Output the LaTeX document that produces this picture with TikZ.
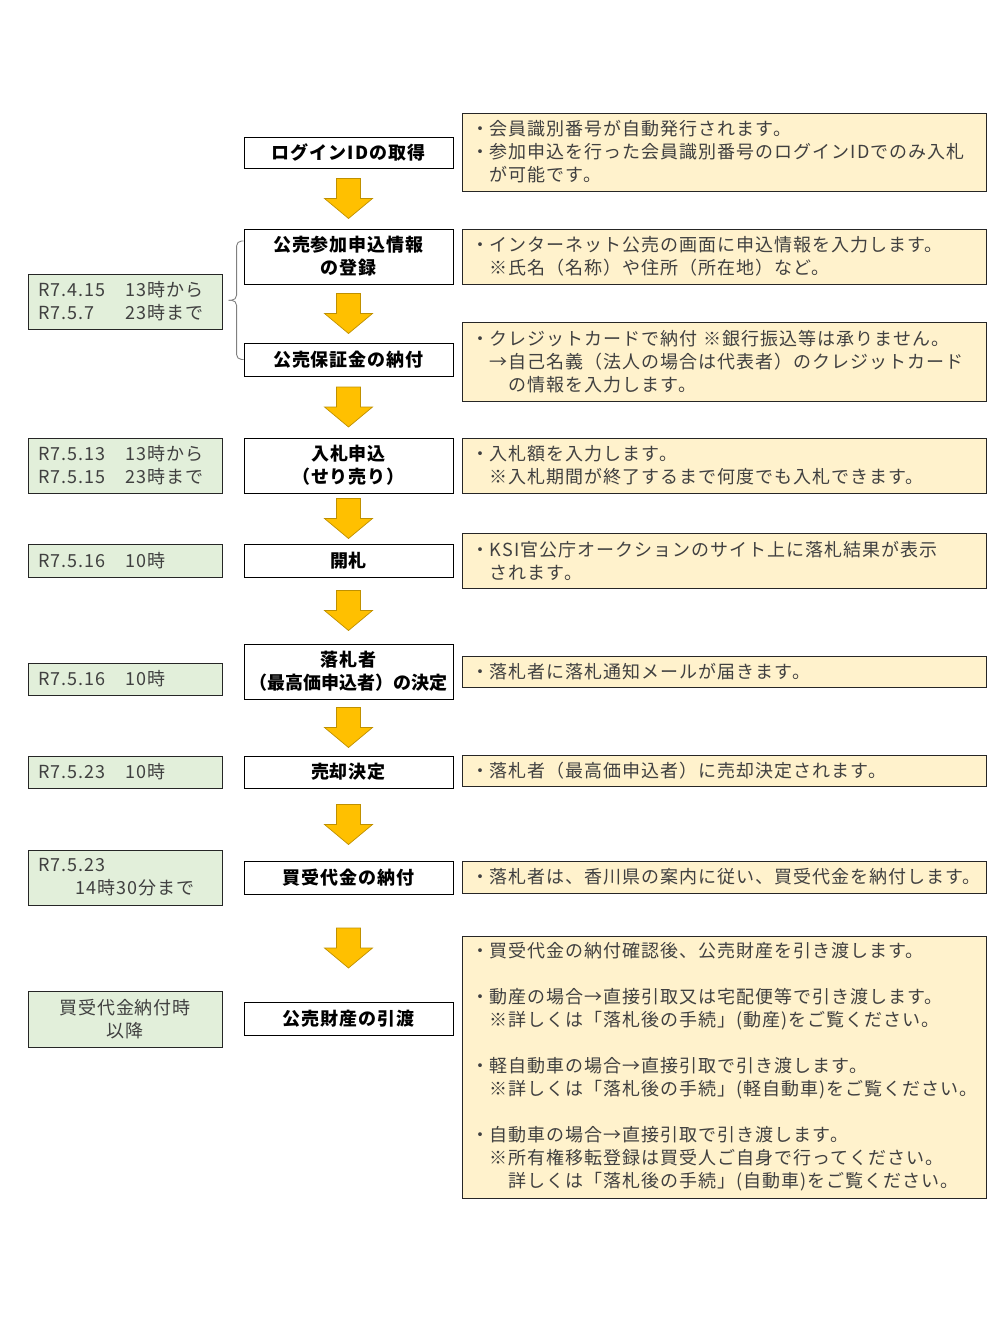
\documentclass[tikz,border=0pt]{standalone}
\usepackage{fontspec}
\setmainfont{Noto Sans CJK JP}[LetterSpace=5.5]
\usetikzlibrary{calc}

\definecolor{notefill}{HTML}{FFF2CC}
\definecolor{datefill}{HTML}{E2EFDA}
\definecolor{arrowfill}{HTML}{FFC000}
\definecolor{arrowline}{HTML}{BF9000}
\definecolor{textgray}{HTML}{404040}

\begin{document}
\begin{tikzpicture}[
    x=1pt, y=-1pt,
    stepbox/.style={rectangle, draw=black, line width=0.9pt, fill=white, minimum width=209pt, inner xsep=2pt, inner ysep=0pt, align=center, font=\fontsize{18}{23}\selectfont\bfseries},
    datebox/.style={rectangle, draw=black!85, line width=0.9pt, fill=datefill, text width=174pt, inner xsep=10pt, inner ysep=0pt, align=left, text=textgray, font=\fontsize{18}{23}\selectfont},
    notebox/.style={rectangle, draw=black!85, line width=0.9pt, fill=notefill, text width=506pt, inner xsep=9pt, inner ysep=0pt, align=left, text=textgray, font=\fontsize{18}{23}\selectfont},
    bracket/.style={draw=gray, line width=0.9pt, rounded corners=5pt},
    downarrow/.pic={\filldraw[fill=arrowfill, draw=arrowline, line width=0.7pt] (-12,-20) -- (12,-20) -- (12,0) -- (24,0) -- (0,20) -- (-24,0) -- (-12,0) -- cycle;}
    ]

    \useasboundingbox (0,0) rectangle (1008,1344);

    % procedure steps
    \node[stepbox, minimum height=31pt] (login) at (348.5,152.5) {ログインIDの取得};
    \node[stepbox, minimum height=55pt] (reg) at (348.5,256.5) {公売参加申込情報\\の登録};
    \node[stepbox, minimum height=33pt] (dep) at (348.5,359.5) {公売保証金の納付};
    \node[stepbox, minimum height=55pt] (bid) at (348.5,465.5) {入札申込\\（せり売り）};
    \node[stepbox, minimum height=33pt] (open) at (348.5,560.5) {開札};
    \node[stepbox, minimum height=55pt] (win) at (348.5,671.5) {落札者\\{\addfontfeatures{LetterSpace=0}（最高価申込者）の決定}};
    \node[stepbox, minimum height=32pt] (sale) at (348.5,772) {売却決定};
    \node[stepbox, minimum height=33pt] (pay) at (348.5,877.5) {買受代金の納付};
    \node[stepbox, minimum height=33pt] (deliv) at (348.5,1018.5) {公売財産の引渡};

    % dates
    \node[datebox, minimum height=55pt] (dregdep) at (125,301.5) {R7.4.15　13時から\\R7.5.7　\ \ 23時まで};
    \node[datebox, minimum height=55pt] (dbid) at (125,465.5) {R7.5.13　13時から\\R7.5.15　23時まで};
    \node[datebox, minimum height=33pt] (dopen) at (125,560.5) {R7.5.16　10時};
    \node[datebox, minimum height=32pt] (dwin) at (125,679) {R7.5.16　10時};
    \node[datebox, minimum height=32pt] (dsale) at (125,772) {R7.5.23　10時};
    \node[datebox, minimum height=55pt] (dpay) at (125,877.5) {R7.5.23\\　　14時30分まで};
    \node[datebox, minimum height=56pt, align=center] (ddeliv) at (125,1019) {買受代金納付時\\以降};

    % notes
    \node[notebox, minimum height=78pt] (nlogin) at (724,152) {・会員識別番号が自動発行されます。\\・参加申込を行った会員識別番号のログインIDでのみ入札\\　が可能です。};
    \node[notebox, minimum height=55pt] (nreg) at (724,256.5) {・インターネット公売の画面に申込情報を入力します。\\　※氏名（名称）や住所（所在地）など。};
    \node[notebox, minimum height=79pt] (ndep) at (724,361.5) {・クレジットカードで納付 ※銀行振込等は承りません。\\　→自己名義（法人の場合は代表者）のクレジットカード\\　　の情報を入力します。};
    \node[notebox, minimum height=55pt] (nbid) at (724,465.5) {・入札額を入力します。\\　※入札期間が終了するまで何度でも入札できます。};
    \node[notebox, minimum height=55pt] (nopen) at (724,560.5) {・KSI官公庁オークションのサイト上に落札結果が表示\\　されます。};
    \node[notebox, minimum height=31pt] (nwin) at (724,671.5) {・落札者に落札通知メールが届きます。};
    \node[notebox, minimum height=31pt] (nsale) at (724,770.5) {・落札者（最高価申込者）に売却決定されます。};
    \node[notebox, minimum height=32pt] (npay) at (724,877) {・落札者は、香川県の案内に従い、買受代金を納付します。};
    \node[notebox, minimum height=262pt] (ndeliv) at (724,1067) {・買受代金の納付確認後、公売財産を引き渡します。\\[23pt]・動産の場合→直接引取又は宅配便等で引き渡します。\\　※詳しくは「落札後の手続」(動産)をご覧ください。\\[23pt]・軽自動車の場合→直接引取で引き渡します。\\　※詳しくは「落札後の手続」(軽自動車)をご覧ください。\\[23pt]・自動車の場合→直接引取で引き渡します。\\　※所有権移転登録は買受人ご自身で行ってください。\\　　詳しくは「落札後の手続」(自動車)をご覧ください。};

    % arrows between steps
    \pic at ($(login.south)!0.5!(reg.north)$) {downarrow};
    \pic at ($(reg.south)!0.5!(dep.north)$) {downarrow};
    \pic at ($(dep.south)!0.5!(bid.north)$) {downarrow};
    \pic at ($(bid.south)!0.5!(open.north)$) {downarrow};
    \pic at ($(open.south)!0.5!(win.north)$) {downarrow};
    \pic at ($(win.south)!0.5!(sale.north)$) {downarrow};
    \pic at ($(sale.south)!0.5!(pay.north)$) {downarrow};
    \pic at ($(pay.south)!0.5!(deliv.north)$) {downarrow};

    % bracket for the registration period
    \coordinate (brtop) at ([yshift=15.5pt]reg.west);
    \coordinate (brmid) at ($(brtop)!0.5!(dep.west)+(-7,0)$);
    \draw[bracket] (brtop) -- ++(-7,0) -- (brmid) -- ++(-8,0);
    \draw[bracket] (dep.west) -- ++(-7,0) -- (brmid) -- ++(-8,0);

\end{tikzpicture}
\end{document}
